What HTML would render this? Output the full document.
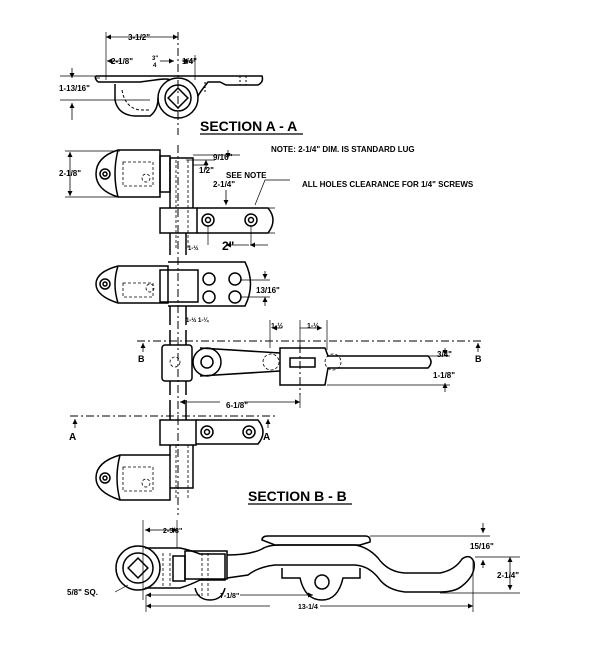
<!DOCTYPE html>
<html><head><meta charset="utf-8"><style>
html,body{margin:0;padding:0;background:#fff;width:600px;height:650px;overflow:hidden}
text{font-family:"Liberation Sans",sans-serif;font-weight:bold;fill:#000}
</style></head><body>
<svg width="600" height="650" viewBox="0 0 600 650" xmlns="http://www.w3.org/2000/svg">
<defs><marker id="a" markerWidth="5" markerHeight="5" refX="5" refY="2.5" orient="auto" markerUnits="userSpaceOnUse"><path d="M0,0 L5,2.5 L0,5 z" fill="#000"/></marker></defs>
<g fill="none" stroke="#000" stroke-width="1.5">
<path d="M96,76 L262,76 Q264,82 258,85 L226,85 L220,82 L208,82 Q200,92 198,96"/>
<path d="M98,82 L140,82 L155,80 Q168,78 170,80"/>
<path d="M115,84 L115,100 Q118,115 135,116 L150,116 Q158,110 158,98"/>
<circle cx="178" cy="98" r="20"/><circle cx="178" cy="98" r="13"/>
<rect x="171" y="91" width="14" height="14" transform="rotate(45 178 98)"/>
<path d="M98,82 Q94,78 96,76" />
<path d="M122,90 Q125,108 140,110 L150,110" stroke-dasharray="3,2" stroke-width="1"/>
<path d="M205,82 L205,92 M240,76 L240,85 M246,76 L246,85" stroke-dasharray="2,2" stroke-width="1"/>
<path d="M118,150 L160,150 L160,197 L118,197 Q96,190 96,174 Q96,157 118,150 Z"/>
<path d="M118,150 Q112,174 118,197"/>
<circle cx="105" cy="174" r="5"/><circle cx="105" cy="174" r="2"/>
<rect x="160" y="156" width="10" height="36"/>
<path d="M170,158 L193,158 L193,208 M170,158 L170,208"/>
<rect x="160" y="208" width="37" height="25"/>
<path d="M197,208 L268,208 Q278,220 268,233 L197,233"/>
<circle cx="208" cy="220" r="6"/><circle cx="208" cy="220" r="2.5"/>
<circle cx="251" cy="220" r="6"/><circle cx="251" cy="220" r="2.5"/>
<path d="M170,233 L170,255 M186,233 L186,255"/>
<path d="M118,266 L168,266 L168,303 L118,303 Q96,296 96,284 Q96,272 118,266 Z"/>
<path d="M118,266 Q112,284 118,303"/>
<circle cx="105" cy="284" r="5"/><circle cx="105" cy="284" r="2"/>
<path d="M168,262 L245,262 Q256,284 245,306 L168,306"/>
<rect x="160" y="270" width="38" height="32"/>
<circle cx="209" cy="279" r="6"/><circle cx="235" cy="279" r="6"/>
<circle cx="209" cy="297" r="6"/><circle cx="235" cy="297" r="6"/>
<path d="M170,306 L170,325 M186,306 L186,325 M170,330 L170,345 M186,330 L186,345"/>
<rect x="162" y="345" width="30" height="36" rx="3"/>
<circle cx="207" cy="362" r="14"/><circle cx="207" cy="362" r="6"/>
<path d="M200,348 L280,353 M200,376 L280,371"/>
<path d="M280,348 L325,348 L328,356 L428,356 Q434,362 428,368 L328,368 L325,385 L280,385 Z"/>
<rect x="290" y="358" width="25" height="9"/>
<path d="M170,381 L170,395 M186,381 L186,395 M170,400 L170,420 M186,400 L186,420"/>
<rect x="160" y="420" width="36" height="25"/>
<path d="M196,420 L258,420 Q268,432 258,444 L196,444"/>
<circle cx="207" cy="432" r="6"/><circle cx="207" cy="432" r="2.5"/>
<circle cx="249" cy="432" r="6"/><circle cx="249" cy="432" r="2.5"/>
<path d="M170,445 L170,455 M193,445 L193,488 L170,488"/>
<path d="M120,455 L170,455 L170,500 L120,500 Q96,492 96,478 Q96,462 120,455 Z"/>
<path d="M120,455 Q114,478 120,500"/>
<circle cx="105" cy="478" r="5"/><circle cx="105" cy="478" r="2"/>
<circle cx="138" cy="568" r="22"/><circle cx="138" cy="568" r="15"/>
<rect x="131" y="561" width="14" height="14" transform="rotate(45 138 568)"/>
<path d="M145,548 L180,548 Q190,550 200,554 L225,554 L225,580 L200,580 Q190,585 180,588 L145,588"/>
<rect x="173" y="556" width="12" height="25"/>
<rect x="185" y="551" width="42" height="28"/>
<path d="M227,555 Q250,555 262,549 Q268,545 280,545 L355,545 Q368,547 378,558 Q388,572 405,573 L440,573 Q455,570 462,559 Q470,553 474,562 Q476,575 462,586 Q455,592 440,592 L405,592 Q388,590 380,580 Q370,566 355,565 L275,565 Q258,567 248,575 L227,578"/>
<path d="M262,540 Q262,536 268,536 L365,536 Q371,536 370,542 L360,545 L275,545 Z"/>
<path d="M282,568 L282,578 L300,578 Q305,600 322,600 Q338,600 343,578 L360,578 L360,568"/>
<circle cx="322" cy="582" r="7"/>
<path d="M195,588 Q198,600 210,600 Q222,600 225,588"/>
</g>
<g fill="none" stroke="#000" stroke-width="1" stroke-dasharray="8,3,2,3">
<path d="M178,32 L178,135 M178,145 L178,515 M137,341 L483,341 M70,416 L275,416 M300,345 L300,395"/>
</g>
<g fill="none" stroke="#000" stroke-width="0.8" stroke-dasharray="3,2">
<rect x="123" y="162" width="30" height="24"/>
<rect x="123" y="467" width="30" height="24"/>
<rect x="123" y="283" width="30" height="14"/>
<path d="M176,160 L176,250 M188,160 L188,250 M176,445 L176,500 M188,445 L188,500"/>
<circle cx="146" cy="178" r="4"/><circle cx="150" cy="288" r="4"/><circle cx="146" cy="483" r="4"/>
<circle cx="271" cy="362" r="8"/><circle cx="333" cy="362" r="8"/><circle cx="175" cy="362" r="5"/>
<path d="M163,553 L163,588 M170,553 L170,588 M202,553 L202,596 M208,553 L208,596"/>
</g>
<g fill="none" stroke="#000" stroke-width="0.8" marker-end="url(#a)">
<path d="M140,37 L106,37"/><path d="M140,37 L178,37"/>
<path d="M120,61 L107,61"/><path d="M160,61 L174,61"/>
<path d="M195,61 L182,61"/>
<path d="M72,68 L72,78"/><path d="M72,120 L72,103"/>
<path d="M70,174 L70,152"/><path d="M70,174 L70,196"/>
<path d="M228,150 L228,158"/><path d="M206,170 L206,160"/><path d="M226,190 L226,205"/>
<path d="M249,245 L226,245"/><path d="M268,245 L250,245"/>
<path d="M265,271 L265,279"/><path d="M265,306 L265,297"/>
<path d="M282,328 L272,328"/><path d="M300,328 L322,328"/>
<path d="M244,402 L300,402"/><path d="M220,402 L180,402"/>
<path d="M143,352 L143,343"/><path d="M478,352 L478,343"/><path d="M75,428 L75,419"/><path d="M268,428 L268,419"/>
<path d="M445,348 L445,355"/><path d="M445,392 L445,383"/>
<path d="M160,530 L145,530"/><path d="M160,530 L177,530"/>
<path d="M200,595 L146,595"/><path d="M240,595 L313,595"/>
<path d="M270,606 L146,606"/><path d="M320,606 L473,606"/>
<path d="M483,523 L483,533"/><path d="M483,568 L483,560"/>
<path d="M510,573 L510,557"/><path d="M510,573 L510,590"/>
</g>
<g fill="none" stroke="#000" stroke-width="0.7">
<path d="M106,32 L106,80 M178,32 L178,40 M195,55 L195,80 M100,78 L96,78 M60,76 L115,76 M60,100 L150,100"/>
<path d="M65,151 L120,151 M65,197 L120,197 M193,155 L240,155 M193,165 L208,165 M186,160 L215,160 M208,245 L208,226 M251,245 L251,226 M260,208 L275,208 M260,233 L275,233"/>
<path d="M240,280 L270,280 M240,297 L270,297 M270,320 L270,348 M327,320 L327,350 M300,320 L300,345"/>
<path d="M327,356 L450,356 M327,385 L450,385 M300,395 L300,408"/>
<path d="M143,520 L143,600 M177,520 L177,548 M370,536 L490,536 M475,557 L520,557 M440,593 L520,593 M473,560 L473,612 M146,595 L146,612"/>
<path d="M255,205 L265,180 L290,180"/><path d="M115,592 L128,585"/>
</g>
<g font-size="8">
<text x="128" y="40">3-1/2"</text>
<text x="111" y="64">2-1/8"</text>
<text x="152" y="60" font-size="6">3"</text><text x="153" y="67" font-size="6">4</text>
<text x="182" y="64">1/4"</text>
<text x="59" y="91">1-13/16"</text>
<text x="271" y="152">NOTE: 2-1/4" DIM. IS STANDARD LUG</text>
<text x="213" y="160">9/16"</text>
<text x="199" y="173">1/2"</text>
<text x="226" y="178">SEE NOTE</text>
<text x="213" y="187">2-1/4"</text>
<text x="302" y="187">ALL HOLES CLEARANCE FOR 1/4" SCREWS</text>
<text x="59" y="176">2-1/8"</text>
<text x="188" y="250" font-size="6">1-½</text>
<text x="222" y="250" font-size="12" font-weight="normal">2"</text>
<text x="256" y="293">13/16"</text>
<text x="186" y="322" font-size="6">1-½  1-¼</text>
<text x="271" y="328" font-size="7">1-½</text><text x="307" y="328" font-size="7">1-½</text>
<text x="437" y="357">3/4"</text>
<text x="433" y="378">1-1/8"</text>
<text x="226" y="408">6-1/8"</text>
<text x="138" y="362" font-size="9">B</text><text x="475" y="362" font-size="9">B</text>
<text x="69" y="440" font-size="10">A</text><text x="263" y="440" font-size="10">A</text>
<text x="470" y="549">15/16"</text>
<text x="497" y="578">2-1/4"</text>
<text x="163" y="533" font-size="7">2-5/8"</text>
<text x="220" y="598" font-size="7">7-1/8"</text>
<text x="298" y="609" font-size="7">13-1/4</text>
<text x="67" y="595">5/8" SQ.</text>
</g>
<text x="200" y="131" font-size="14">SECTION A - A</text>
<line x1="200" y1="134" x2="303" y2="134" stroke="#000" stroke-width="1.2"/>
<text x="248" y="501" font-size="14">SECTION B - B</text>
<line x1="248" y1="504" x2="352" y2="504" stroke="#000" stroke-width="1.2"/>
</svg>
</body></html>
